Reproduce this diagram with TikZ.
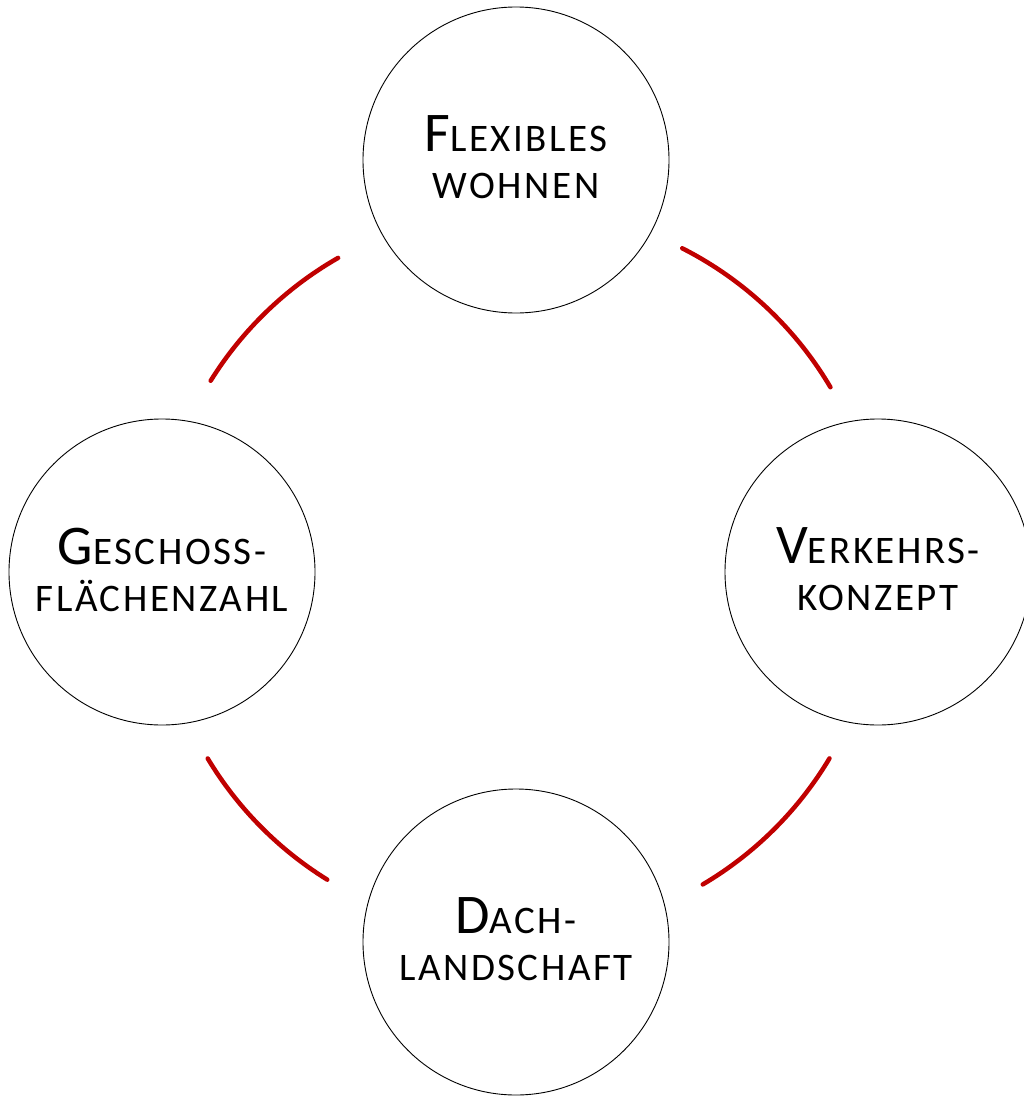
\documentclass[tikz,border=0pt]{standalone}
\usepackage{fontspec}
\setmainfont{Carlito}[LetterSpace=6.5]
\usetikzlibrary{calc}
\definecolor{arcred}{HTML}{C00000}
\newcommand{\initcap}[1]{{\fontsize{56}{47}\selectfont #1}}
\begin{document}
\begin{tikzpicture}[x=1pt,y=-1pt,
  topic/.style={circle,draw=black,line width=0.9pt,minimum size=306pt,inner sep=0pt},
  label/.style={align=center,font=\fontsize{39}{47}\selectfont,inner sep=0pt,yshift=2.5pt},
  arcline/.style={draw=arcred,line width=4.5pt,line cap=round}]
\useasboundingbox (0,0) rectangle (1024,1097);
\node[topic] (top) at (516,160) {};
\node[topic] (right) at (878,572) {};
\node[topic] (bottom) at (516,942) {};
\node[topic] (left) at (162,572) {};
\node[label] (toptext) at (top.center) {\initcap{F}LEXIBLES\\WOHNEN};
\node[label] (righttext) at (right.center) {\initcap{V}ERKEHRS-\\KONZEPT};
\node[label] (bottomtext) at (bottom.center) {\initcap{D}ACH-\\LANDSCHAFT};
\node[label] (lefttext) at (left.center) {\initcap{G}ESCHOSS-\\FLÄCHENZAHL};
\coordinate (c) at (518,572);
\draw[arcline] ($(c)+(-63.1:363)$) arc[start angle=-63.1,end angle=-30.6,radius=363];
\draw[arcline] ($(c)+(-119.8:362)$) arc[start angle=-119.8,end angle=-148.1,radius=362];
\draw[arcline] ($(c)+(-211:362)$) arc[start angle=-211,end angle=-238.2,radius=362];
\draw[arcline] ($(c)+(-329.1:363)$) arc[start angle=-329.1,end angle=-300.6,radius=363];
\end{tikzpicture}
\end{document}
